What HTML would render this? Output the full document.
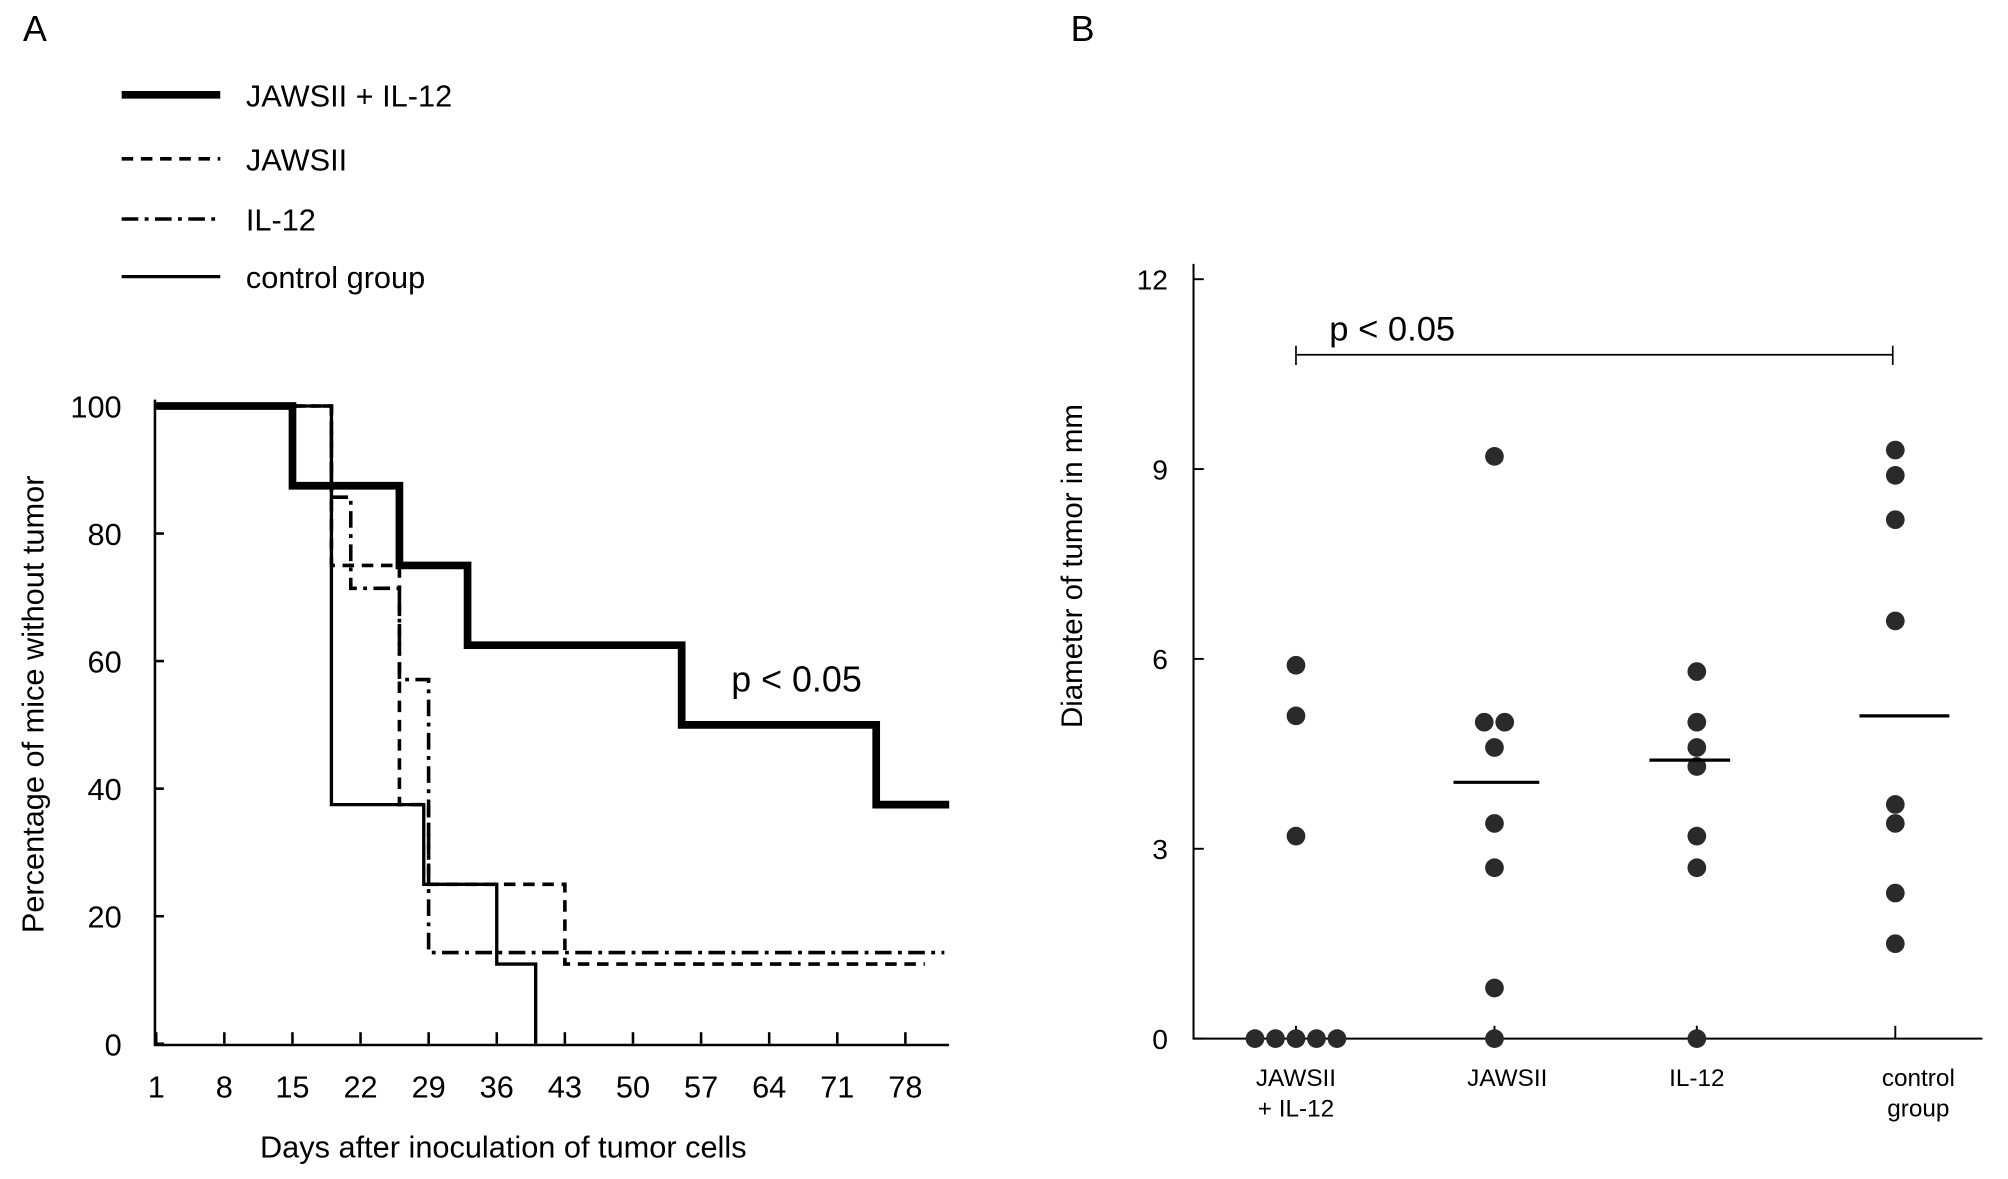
<!DOCTYPE html>
<html><head><meta charset="utf-8"><style>
html,body{margin:0;padding:0;background:#fff}
svg{display:block;font-family:"Liberation Sans",Arial,sans-serif}
</style></head><body>
<svg id="fig" width="2008" height="1179" viewBox="0 0 1568 920.6" xmlns="http://www.w3.org/2000/svg">
<rect width="1568" height="921" fill="#fff"/>
<g id="A"></g>
<g id="B"></g>
</svg>
<script>
// Panel A data
const xTicksA = [1,8,15,22,29,36,43,50,57,64,71,78];
const yTicksA = [0,20,40,60,80,100];
const seriesNames = ["JAWSII + IL-12","JAWSII","IL-12","control group"];
const comboDays = [1,15,15,26,26,33,33,55,55,75,75,82.5];
const comboVals = [100,100,87.5,87.5,75,75,62.5,62.5,50,50,37.5,37.5];
const jawsDays = [1,19,19,26,26,29,29,43,43,80];
const jawsVals = [100,100,75,75,37.5,37.5,25,25,12.5,12.5];
const il12Days = [1,19,19,21,21,26,26,29,29,82];
const il12Vals = [100,100,85.7,85.7,71.4,71.4,57.1,57.1,14.3,14.3];
const ctrlDays = [1,19,19,28.5,28.5,36,36,40,40];
const ctrlVals = [100,100,37.5,37.5,25,25,12.5,12.5,0];
// Panel B data
const groupsB = ["JAWSII|+ IL-12","JAWSII","IL-12","control|group"];
const yTicksB = [0,3,6,9,12];
const g1Vals = [5.9,5.1,3.2,0,0,0,0,0];
const g2Vals = [9.2,5.0,5.0,4.6,3.4,2.7,0.8,0];
const g3Vals = [5.8,5.0,4.6,4.3,3.2,2.7,0];
const g4Vals = [9.3,8.9,8.2,6.6,3.7,3.4,2.3,1.5];
const mediansB = [null,4.05,4.4,5.1];

const NS="http://www.w3.org/2000/svg";
function mk(parent,tag,attrs,text){const e=document.createElementNS(NS,tag);for(const k in attrs)e.setAttribute(k,attrs[k]);if(text!==undefined)e.textContent=text;parent.appendChild(e);return e;}

const A=document.getElementById('A');
const xA=d=>122+(d-1)*(707-122)/77;
const yA=v=>815-v*(815-317)/100;
let t=mk(A,'text',{x:18,y:32,'font-size':28},'A');


let ax=mk(A,'path',{d:`M121,312 V816 H741`,stroke:'#000','stroke-width':2,fill:'none'});


yTicksA.forEach(v=>{
  const tk=mk(A,'line',{x1:121,x2:128,y1:yA(v),y2:yA(v),stroke:'#000','stroke-width':2});
  
  
  const l=mk(A,'text',{x:95,y:yA(v)+9,'font-size':24,'text-anchor':'end'},String(v));
  
  
});
xTicksA.forEach(d=>{
  const tk=mk(A,'line',{x1:xA(d),x2:xA(d),y1:815,y2:806,stroke:'#000','stroke-width':2});
  
  
  const l=mk(A,'text',{x:xA(d),y:857,'font-size':24,'text-anchor':'middle'},String(d));
  
  
});
t=mk(A,'text',{x:393,y:904,'font-size':24,'text-anchor':'middle'},'Days after inoculation of tumor cells');


t=mk(A,'text',{x:0,y:0,'font-size':24,'text-anchor':'middle',transform:'translate(34,550) rotate(-90)'},'Percentage of mice without tumor');


const styles=[{w:6,da:''},{w:2.8,da:'9,6'},{w:2.8,da:'13,5,3,5'},{w:2.6,da:''}];
const all=[[comboDays,comboVals],[jawsDays,jawsVals],[il12Days,il12Vals],[ctrlDays,ctrlVals]];
const snames=['series-jawsii-il12','series-jawsii','series-il12','series-control'];
all.forEach((s,i)=>{
  const d=s[0].map((x,j)=>(j?'L':'M')+xA(x).toFixed(1)+','+yA(s[1][j]).toFixed(1)).join(' ');
  const p=mk(A,'path',{d:d,stroke:'#000','stroke-width':styles[i].w,fill:'none','stroke-dasharray':styles[i].da});
  
  
  const ly=[74,124,171,216][i];
  const ll=mk(A,'line',{x1:95,x2:172,y1:ly,y2:ly,stroke:'#000','stroke-width':styles[i].w,'stroke-dasharray':styles[i].da});
  
  
  const lt=mk(A,'text',{x:192,y:ly+9,'font-size':24},seriesNames[i]);
  
  
});
t=mk(A,'text',{x:571,y:540,'font-size':28},'p < 0.05');



// Panel B
const B=document.getElementById('B');
const yB=v=>811-v*(811-218)/12;
const xB=[1012,1167,1325,1480];
t=mk(B,'text',{x:836,y:32,'font-size':28},'B');


ax=mk(B,'path',{d:'M932,206 V811 H1548',stroke:'#000','stroke-width':1.6,fill:'none'});


yTicksB.forEach(v=>{
  const tk=mk(B,'line',{x1:932,x2:940,y1:yB(v),y2:yB(v),stroke:'#000','stroke-width':1.5});
  
  
  const l=mk(B,'text',{x:912,y:yB(v)+8,'font-size':22,'text-anchor':'end'},String(v));
  
  
});
t=mk(B,'text',{x:0,y:0,'font-size':23,'text-anchor':'middle',transform:'translate(845,442) rotate(-90)'},'Diameter of tumor in mm');


const labOff=[0,10,0,18];
groupsB.forEach((g,i)=>{
  const tk=mk(B,'line',{x1:xB[i],x2:xB[i],y1:811,y2:801,stroke:'#000','stroke-width':1.5});
  
  
  g.split('|').forEach((s,k)=>{
    const l=mk(B,'text',{x:xB[i]+labOff[i],y:848+k*24,'font-size':19,'text-anchor':'middle'},s);
    
    
  });
});
const groupVals=[g1Vals,g2Vals,g3Vals,g4Vals];
groupVals.forEach((vals,i)=>{
  const cnt={};
  vals.forEach(v=>{cnt[v]=(cnt[v]||0)+1;});
  const seen={};
  vals.forEach(v=>{
    const n=cnt[v],k=(seen[v]=(seen[v]||0)+1)-1;
    const cx=xB[i]+(k-(n-1)/2)*16;
    const c=mk(B,'circle',{cx:cx,cy:yB(v),r:7.3,fill:'#2a2a2a'});
    
    
  });
  if(mediansB[i]!==null){
    const m=mk(B,'line',{x1:xB[i]-37+labOff[i]*0.5,x2:xB[i]+26+labOff[i]*0.9,y1:yB(mediansB[i]),y2:yB(mediansB[i]),stroke:'#000','stroke-width':2.5});
    
    
  }
});
const br=mk(B,'path',{d:'M1012,270 V285 M1012,277 H1478 M1478,270 V285',stroke:'#000','stroke-width':1.3,fill:'none'});


t=mk(B,'text',{x:1038,y:266,'font-size':27},'p < 0.05');


</script>
</body></html>
